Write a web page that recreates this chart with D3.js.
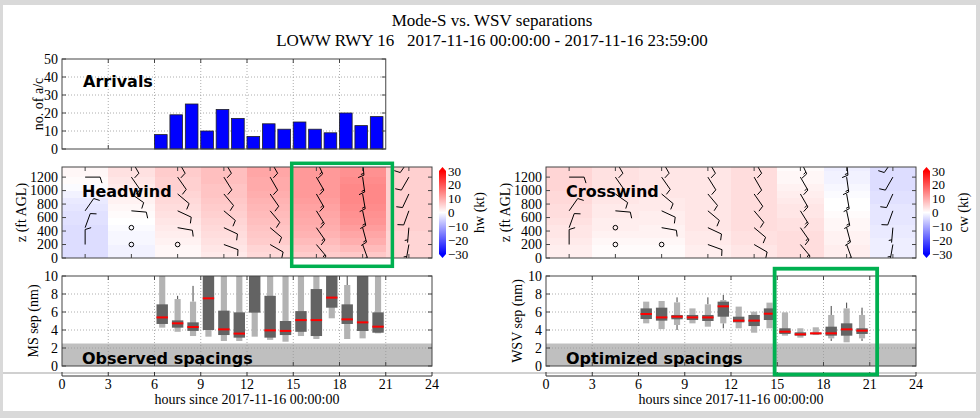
<!DOCTYPE html>
<html><head><meta charset="utf-8">
<script src="https://cdn.jsdelivr.net/npm/d3@7"></script>
<style>
body{margin:0;background:#fff}
svg{display:block}
text{font-family:"Liberation Serif","Times New Roman",serif;fill:#000}
.lbl{font-family:"DejaVu Sans",sans-serif;font-weight:bold;font-size:16px}
</style>
</head><body><svg id="c" width="980" height="418"></svg>
<script>
// ---------------- DATA ----------------
const hours = [6,7,8,9,10,11,12,13,14,15,16,17,18,19,20];
const arrivals = [8,19,25,10,22,17,7,14,11,15,11,9,20,13,18];
const xTicks = [0,3,6,9,12,15,18,21,24];
const arrTicks = [0,10,20,30,40,50];
const zTicks = [0,200,400,600,800,1000,1200];
const sepTicks = [0,2,4,6,8,10];
const cbTicks = [30,20,10,0,-10,-20,-30];

// Mode-S observed spacing stats per hour (nm)
const msP10 = [4.26,3.8,3.33,3.26,2.78,2.78,3.26,2.9,2.7,3.33,3.0,5.3,3.0,3.07,3.63];
const msQ1  = [4.67,4.26,3.9,4.0,3.44,3.15,5.93,3.15,3.44,3.8,3.33,6.48,4.67,3.89,3.7];
const msMed = [5.4,4.74,4.33,7.52,4.07,3.6,10.6,3.96,3.9,5.1,5.1,7.6,5.18,4.85,4.37];
const msQ3  = [6.85,5.07,4.85,11.5,6.15,5.96,12.5,7.8,5.0,6.1,8.55,11.8,6.85,11.6,5.96];
const msP90 = [12.0,7.44,7.15,13.5,12.2,12.5,14.0,13.0,12.0,12.2,12.8,13.6,9.0,13.8,12.1];
const msWHi = [null,7.8,8.9,null,null,null,null,null,null,null,null,null,11.0,null,null];

// WSV optimized spacing stats per hour (nm)
const wsP10 = [4.74,4.1,4.56,4.74,4.37,4.74,4.19,3.7,4.19,3.37,3.15,3.44,3.07,2.63,3.07];
const wsQ1  = [5.22,5.04,5.19,5.11,5.0,5.48,4.85,4.44,5.11,3.56,3.37,3.52,3.37,3.37,3.56];
const wsMed = [5.78,5.4,5.48,5.4,5.4,6.63,5.04,5.04,5.81,3.81,3.52,3.63,3.63,4.07,3.93];
const wsQ3  = [6.4,6.48,5.67,5.67,5.67,7.15,5.48,5.67,6.4,4.19,3.74,3.7,4.37,4.74,4.19];
const wsP90 = [7.15,7.22,7.07,6.4,6.85,7.33,6.6,6.04,7.04,5.96,4.19,4.3,5.67,6.4,5.67];
const wsWHi = [null,null,7.63,null,7.63,7.9,null,null,null,null,null,null,6.67,7.04,6.48];
const wsWLo = [null,null,4.0,null,null,4.19,null,null,null,null,null,null,2.78,null,2.78];

// wind profile columns (3-hour bins) and heights of heatmap rows (ft, bottom edges)
const windCols = [0,3,6,9,12,15,18,21];
const rowBase = [0,100,200,300,400,500,600,700,800,900,1000,1100,1200,1300];
// headwind (kt) per column, bottom -> top
const hw = [
 [-4,-4,-4,-4,-4,-3.5,-3.5,-3,-2.5,-1.5,-0.5,0.5,1,1],
 [-1.5,-1.5,-1,-1,-0.5,0,0.5,1,1.5,2,2.5,3,3.5,3.5],
 [1,1,1.5,2,2.5,3,3.5,4,4.5,5,5.5,5.5,6,6],
 [2.5,3,3.5,4,4.5,5,5.5,6,6.5,7,7,7.5,7.5,7.5],
 [4.5,5,6,6.5,7,7.5,8,8.5,9,9.5,10,10,10.5,10.5],
 [6,7,8,9,9.5,10,10.5,11,11.5,12,12,12,12,12],
 [6.5,8,9.5,10.5,11.5,12.5,13,13.5,14,14,14,13.5,13,13],
 [5,5,5,5,5.5,5.5,5.5,5.5,5.5,5.5,5.5,5.5,5.5,5.5]
];
// crosswind (kt) per column, bottom -> top
const cw = [
 [2,2,2.5,3,3,3.5,4,4,4.5,4.5,5,5,5,5],
 [0.5,0.5,1,1.5,2,2,2.5,2.5,3,3,3.5,3.5,3.5,3.5],
 [0.5,0.5,1,1.5,1.5,2,2,2.5,2.5,3,3,3,3,3],
 [2,2,2.5,2.5,3,3,3,3,3,3,3,3,3,3],
 [3,3,3.5,3.5,4,4,4,4,4,4,4,4,4,4],
 [4,4,4,4,3.5,3.5,3,3,2.5,2,1.5,1,1,0.5],
 [2,2,1.5,1.5,1,1,0.5,0,0,-0.5,-1,-1.5,-1.5,-2],
 [-2,-2,-2,-2.5,-2.5,-3,-3,-3,-3.5,-3.5,-4,-4,-4,-4]
];
// wind barbs: heights (ft), speed (kt, 0 = calm), direction wind comes from (deg)
const barbLevels = [200,450,700,950,1200,1450];
const barbSpeed = [
 [10,10,10,null,10,null],
 [0,0,10,10,10,10],
 [0,10,10,10,10,10],
 [10,10,10,10,10,10],
 [10,10,10,10,10,10],
 [15,15,15,15,15,15],
 [15,15,15,15,15,15],
 [5,5,10,10,10,10]
];
const barbDir = [
 [0,20,35,null,90,null],
 [0,0,95,125,145,150],
 [0,100,115,130,145,150],
 [110,115,130,140,148,150],
 [120,130,140,145,150,150],
 [140,145,148,150,150,155],
 [160,165,168,170,172,175],
 [190,185,200,205,210,215]
];

// ---------------- DRAWING ----------------
const svg = d3.select("#c");
const W = 980, H = 418;
svg.append("rect").attr("width",W).attr("height",H).attr("fill","#d9d9d9");
svg.append("rect").attr("x",3).attr("y",5).attr("width",973).attr("height",406).attr("fill","#fff");
svg.append("line").attr("x1",3).attr("x2",976).attr("y1",373).attr("y2",373)
  .attr("stroke","#d0d0d0").attr("stroke-width",2);

svg.append("text").attr("x",492).attr("y",26).attr("text-anchor","middle")
  .style("font-size","17px").text("Mode-S vs. WSV separations");
svg.append("text").attr("x",492).attr("y",46).attr("text-anchor","middle")
  .style("font-size","17px").attr("xml:space","preserve")
  .text("LOWW RWY 16   2017-11-16 00:00:00 - 2017-11-16 23:59:00");

const color = d3.scaleLinear().domain([-30,0,30]).range(["#0000ff","#ffffff","#ff0000"]).clamp(true);
const defs = svg.append("defs");
let clipId = 0;
function clip(x0,y0,x1,y1){
  const id = "clip"+(clipId++);
  defs.append("clipPath").attr("id",id).append("rect")
    .attr("x",x0).attr("y",y0).attr("width",x1-x0).attr("height",y1-y0);
  return "url(#"+id+")";
}
const frameColor = "#444";
function frame(x0,y0,x1,y1){
  svg.append("rect").attr("x",x0).attr("y",y0).attr("width",x1-x0).attr("height",y1-y0)
    .attr("fill","none").attr("stroke",frameColor).attr("stroke-width",1);
}
function grid(g, xs, ys, xv, yv, x0,x1,y0,y1){
  xv.forEach(v=>g.append("line").attr("x1",xs(v)).attr("x2",xs(v)).attr("y1",y0).attr("y2",y1)
    .attr("stroke","#999").attr("stroke-width",0.8).attr("stroke-dasharray","1,2"));
  yv.forEach(v=>g.append("line").attr("x1",x0).attr("x2",x1).attr("y1",ys(v)).attr("y2",ys(v))
    .attr("stroke","#999").attr("stroke-width",0.8).attr("stroke-dasharray","1,2"));
}
function inTicks(xs, ys, xv, yv, x0,x1,y0,y1){
  const g = svg.append("g").attr("stroke",frameColor).attr("stroke-width",1);
  xv.forEach(v=>{
    g.append("line").attr("x1",xs(v)).attr("x2",xs(v)).attr("y1",y1).attr("y2",y1-4);
    g.append("line").attr("x1",xs(v)).attr("x2",xs(v)).attr("y1",y0).attr("y2",y0+4);
  });
  yv.forEach(v=>{
    g.append("line").attr("x1",x0).attr("x2",x0+4).attr("y1",ys(v)).attr("y2",ys(v));
    g.append("line").attr("x1",x1).attr("x2",x1-4).attr("y1",ys(v)).attr("y2",ys(v));
  });
}
function yLabels(ys, vals, x0){
  vals.forEach(v=>svg.append("text").attr("x",x0-4).attr("y",ys(v)).attr("dy","0.35em")
    .attr("text-anchor","end").style("font-size","14px").text(v));
}
function yTitle(x, y, t){
  svg.append("text").attr("transform",`translate(${x},${y}) rotate(-90)`)
    .attr("text-anchor","middle").attr("dominant-baseline","central")
    .style("font-size","14px").text(t);
}

const xL = d3.scaleLinear().domain([0,24]).range([62,432]);
const xR = d3.scaleLinear().domain([0,24]).range([546,916]);
const yArr = d3.scaleLinear().domain([0,50]).range([149,59]);
const yZ = d3.scaleLinear().domain([0,1350]).range([258,167]);
const ySep = d3.scaleLinear().domain([0,10]).range([366,276]);
const yCb = d3.scaleLinear().domain([-30,30]).range([254,171]);

// ---- Arrivals panel ----
{
  const x0 = xL(0), x1 = xL(21), y0 = yArr(50), y1 = yArr(0);
  const g = svg.append("g");
  grid(g, xL, yArr, [3,6,9,12,15,18], [10,20,30,40], x0,x1,y0,y1);
  g.selectAll("rect.bar").data(hours).join("rect")
    .attr("x",h=>xL(h)).attr("width",h=>xL(h+0.82)-xL(h))
    .attr("y",(h,i)=>yArr(arrivals[i])).attr("height",(h,i)=>yArr(0)-yArr(arrivals[i]))
    .attr("fill","#0000ff").attr("stroke","#222").attr("stroke-width",0.8);
  frame(x0,y0,x1,y1);
  inTicks(xL, yArr, [3,6,9,12,15,18], arrTicks, x0,x1,y0,y1);
  yLabels(yArr, arrTicks, x0);
  yTitle(38, (y0+y1)/2, "no. of a/c");
  svg.append("text").attr("class","lbl").attr("x",83).attr("y",87).text("Arrivals");
}

// ---- barb drawing ----
function drawBarb(g, x, y, spd, dir){
  if (spd == null) return;
  if (spd < 2.5){
    g.append("circle").attr("cx",x).attr("cy",y).attr("r",2.3)
      .attr("fill","none").attr("stroke","#000").attr("stroke-width",1);
    return;
  }
  const L = 15, th = dir*Math.PI/180;
  const dx = Math.sin(th), dy = -Math.cos(th);
  const rx = -dy, ry = dx;
  const hgt = 0.4*L, wid = 0.25*L, sp = 0.125*L;
  const r5 = Math.round(spd/5)*5;
  const nFull = Math.floor(r5/10), half = (r5 % 10) >= 5;
  let p = `M${x},${y}L${x+L*dx},${y+L*dy}`;
  let off = L;
  for (let i=0;i<nFull;i++){
    const px = x+off*dx, py = y+off*dy;
    p += `M${px},${py}L${px+hgt*rx+wid/2*dx},${py+hgt*ry+wid/2*dy}`;
    off -= sp;
  }
  if (half){
    if (off === L) off -= 1.5*sp;
    const px = x+off*dx, py = y+off*dy;
    p += `M${px},${py}L${px+hgt/2*rx+wid/4*dx},${py+hgt/2*ry+wid/4*dy}`;
  }
  g.append("path").attr("d",p).attr("fill","none").attr("stroke","#000").attr("stroke-width",1);
}

// ---- wind panels ----
function windPanel(xs, vals, label, cbLabel){
  const x0 = xs(0), x1 = xs(24), y0 = yZ(1350), y1 = yZ(0);
  const g = svg.append("g").attr("clip-path", clip(x0,y0,x1,y1));
  windCols.forEach((c,ci)=>{
    rowBase.forEach((z,ri)=>{
      g.append("rect").attr("x",xs(c)).attr("width",xs(c+3)-xs(c)+0.3)
        .attr("y",yZ(z+100)).attr("height",yZ(z)-yZ(z+100)+0.3)
        .attr("fill",color(vals[ci][ri])).attr("shape-rendering","crispEdges");
    });
  });
  windCols.forEach((c,ci)=>{
    barbLevels.forEach((z,li)=>{
      drawBarb(g, xs(c+1.5), yZ(z), barbSpeed[ci][li], barbDir[ci][li]);
    });
  });
  frame(x0,y0,x1,y1);
  inTicks(xs, yZ, windCols.map(c=>c+1.5), zTicks, x0,x1,y0,y1);
  yLabels(yZ, zTicks, x0);
  yTitle(x0-41, (y0+y1)/2, "z (ft AGL)");
  svg.append("text").attr("class","lbl").attr("x",x0+20).attr("y",197).text(label);
  // colorbar
  const cx = x1+7, cwid = 7;
  const gid = "grad"+label;
  const lg = defs.append("linearGradient").attr("id",gid)
    .attr("x1",0).attr("x2",0).attr("y1",1).attr("y2",0);
  [-30,-20,-10,0,10,20,30].forEach(v=>lg.append("stop")
    .attr("offset",(v+30)/60).attr("stop-color",color(v)));
  svg.append("rect").attr("x",cx).attr("y",yCb(30)).attr("width",cwid)
    .attr("height",yCb(-30)-yCb(30)).attr("fill",`url(#${gid})`);
  svg.append("path").attr("d",`M${cx},${yCb(30)}L${cx+cwid},${yCb(30)}L${cx+cwid/2},${y0}Z`)
    .attr("fill",color(30));
  svg.append("path").attr("d",`M${cx},${yCb(-30)}L${cx+cwid},${yCb(-30)}L${cx+cwid/2},${y1}Z`)
    .attr("fill",color(-30));
  cbTicks.forEach(v=>svg.append("text").attr("x",cx+cwid+2).attr("y",yCb(v)).attr("dy","0.35em")
    .style("font-size","13px").text(v<0 ? "\u2212"+Math.abs(v) : v));
  yTitle(cx+cwid+33, (y0+y1)/2, cbLabel);
}
windPanel(xL, hw, "Headwind", "hw (kt)");
windPanel(xR, cw, "Crosswind", "cw (kt)");

// ---- separation panels ----
function sepPanel(xs, P10, Q1, Med, Q3, P90, WHi, WLo, label, ytitle, ytx){
  const x0 = xs(0), x1 = xs(24), y0 = ySep(10), y1 = ySep(0);
  const g = svg.append("g").attr("clip-path", clip(x0,y0,x1,y1));
  g.append("rect").attr("x",x0).attr("width",x1-x0).attr("y",ySep(2.5))
    .attr("height",ySep(0)-ySep(2.5)).attr("fill","#bfbfbf");
  grid(g, xs, ySep, [3,6,9,12,15,18,21], [2,4,6,8], x0,x1,y0,y1);
  hours.forEach((h,i)=>{
    const c = h+0.5;
    if (WHi && WHi[i]!=null) g.append("line").attr("x1",xs(c)).attr("x2",xs(c))
      .attr("y1",ySep(WHi[i])).attr("y2",ySep(P90[i])).attr("stroke","#444").attr("stroke-width",1);
    if (WLo && WLo[i]!=null) g.append("line").attr("x1",xs(c)).attr("x2",xs(c))
      .attr("y1",ySep(WLo[i])).attr("y2",ySep(P10[i])).attr("stroke","#444").attr("stroke-width",1);
    g.append("rect").attr("x",xs(c-0.2)).attr("width",xs(0.4)-xs(0))
      .attr("y",ySep(P90[i])).attr("height",ySep(P10[i])-ySep(P90[i])).attr("fill","#b3b3b3");
    g.append("rect").attr("x",xs(c-0.37)).attr("width",xs(0.74)-xs(0))
      .attr("y",ySep(Q3[i])).attr("height",ySep(Q1[i])-ySep(Q3[i])).attr("fill","#636363");
    g.append("line").attr("x1",xs(c-0.37)).attr("x2",xs(c+0.37))
      .attr("y1",ySep(Med[i])).attr("y2",ySep(Med[i])).attr("stroke","#ff0000").attr("stroke-width",2);
  });
  frame(x0,y0,x1,y1);
  inTicks(xs, ySep, [3,6,9,12,15,18,21], sepTicks, x0,x1,y0,y1);
  yLabels(ySep, sepTicks, x0);
  yTitle(ytx, (y0+y1)/2, ytitle);
  svg.append("text").attr("class","lbl").attr("x",x0+20).attr("y",364).text(label);
  // detached x-axis
  const ay = 376;
  const ag = svg.append("g").attr("stroke","#333").attr("stroke-width",1);
  ag.append("line").attr("x1",x0).attr("x2",x1).attr("y1",ay).attr("y2",ay);
  xTicks.forEach(v=>{
    ag.append("line").attr("x1",xs(v)).attr("x2",xs(v)).attr("y1",ay).attr("y2",ay-4);
    svg.append("text").attr("x",xs(v)).attr("y",389).attr("text-anchor","middle")
      .style("font-size","14px").text(v);
  });
  svg.append("text").attr("x",(x0+x1)/2).attr("y",404).attr("text-anchor","middle")
    .style("font-size","14px").text("hours since 2017-11-16 00:00:00");
}
sepPanel(xL, msP10, msQ1, msMed, msQ3, msP90, msWHi, null, "Observed spacings", "MS sep (nm)", 33);
sepPanel(xR, wsP10, wsQ1, wsMed, wsQ3, wsP90, wsWHi, wsWLo, "Optimized spacings", "WSV sep (nm)", 517);

// ---- highlight boxes (hour spans) ----
const hlLeft = [14.9, 21.43];
const hlRight = [14.83, 21.48];
svg.append("rect").attr("x",xL(hlLeft[0])).attr("width",xL(hlLeft[1])-xL(hlLeft[0]))
  .attr("y",163.3).attr("height",103).attr("fill","none").attr("stroke","#00b050").attr("stroke-width",3.5);
svg.append("rect").attr("x",xR(hlRight[0])).attr("width",xR(hlRight[1])-xR(hlRight[0]))
  .attr("y",268.7).attr("height",105.8).attr("fill","none").attr("stroke","#00b050").attr("stroke-width",3.8);
</script>
</body></html>
